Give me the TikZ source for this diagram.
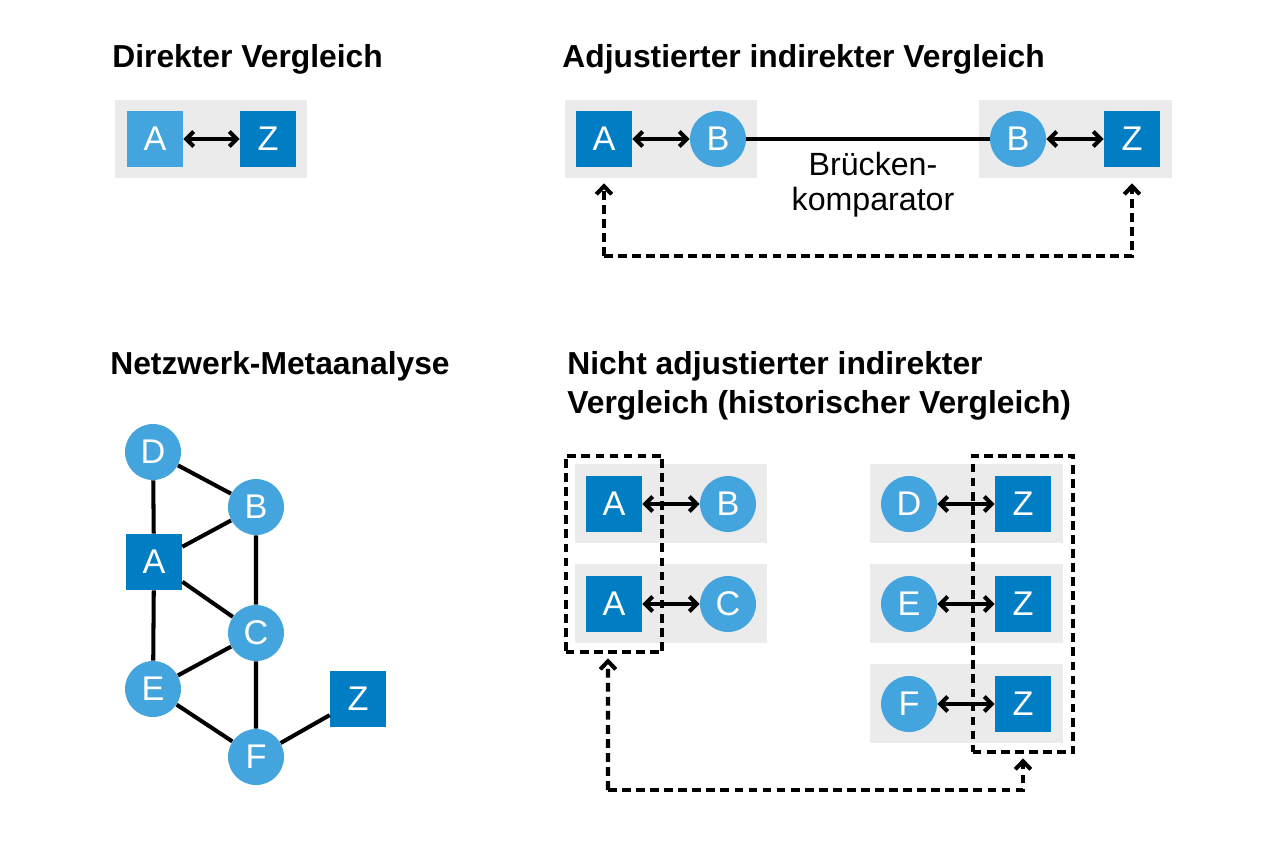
\documentclass[tikz,border=0pt]{standalone}
\usepackage{fontspec}
\setmainfont{Liberation Sans}
\usetikzlibrary{arrows.meta,fit}
\definecolor{hellblau}{RGB}{68,164,221}
\definecolor{dunkelblau}{RGB}{0,125,195}
\definecolor{hgrau}{RGB}{235,235,235}
\begin{document}
\begin{tikzpicture}[x=0.02cm,y=-0.02cm,
  quad/.style={fill=dunkelblau,minimum size=1.12cm,inner sep=0pt,text=white,font=\fontsize{19.5}{22}\selectfont},
  hquad/.style={quad,fill=hellblau},
  kreis/.style={circle,fill=hellblau,minimum size=1.12cm,inner sep=0pt,text=white,font=\fontsize{19.5}{22}\selectfont},
  titel/.style={anchor=base west,inner sep=0pt,font=\fontsize{18.1}{21}\selectfont\bfseries},
  kante/.style={line width=2.3pt},
  pfeil/.style={kante,{Straight Barb[length=1.5mm,width=3mm]}-{Straight Barb[length=1.5mm,width=3mm]}},
  strich/.style={line width=2.3pt,dash pattern=on 5pt off 3pt},
  spitze/.style={strich,-{Straight Barb[length=1.6mm,width=3.1mm]}},
  rahmen/.style={strich,draw,inner sep=0.4cm}]
\useasboundingbox (0,0) rectangle (1280,840);
\node[titel] at (112,67) {Direkter Vergleich};
\node[titel] at (562,67) {Adjustierter indirekter Vergleich};
\node[titel] at (110,374) {Netzwerk-Metaanalyse};
\node[titel] at (567,374) {Nicht adjustierter indirekter};
\node[titel] at (567,413) {Vergleich (historischer Vergleich)};
% direkt
\fill[hgrau] (115,100) rectangle (307,178);
\node[hquad] (dA) at (155,139) {A};
\node[quad] (dZ) at (268,139) {Z};
\draw[pfeil] (dA) -- (dZ);
% adjustiert
\fill[hgrau] (565,100) rectangle (757,178);
\fill[hgrau] (979,100) rectangle (1172,178);
\node[quad] (aA) at (604,139) {A};
\node[kreis] (aB) at (718,139) {B};
\node[kreis] (aB2) at (1018,139) {B};
\node[quad] (aZ) at (1132,139) {Z};
\draw[pfeil] (aA) -- (aB);
\draw[kante] (aB) -- (aB2);
\draw[pfeil] (aB2) -- (aZ);
\node[align=center,font=\fontsize{18.3}{20}\selectfont] (bk) at (873,185) {Brücken-\\komparator};
\draw[spitze] (604,256) -- ([yshift=-0.32cm]aA.south);
\draw[spitze] (604,256) -| ([yshift=-0.32cm]aZ.south);
% netzwerk
\node[kreis] (nD) at (153,452) {D};
\node[kreis] (nB) at (256,507) {B};
\node[quad] (nA) at (154,562) {A};
\node[kreis] (nC) at (256,633) {C};
\node[kreis] (nE) at (153,689) {E};
\node[kreis] (nF) at (256,757) {F};
\node[quad] (nZ) at (358,699) {Z};
\draw[kante] (nD) -- (nA) (nD) -- (nB) (nA) -- (nB) (nA) -- (nC) (nB) -- (nC)
  (nA) -- (nE) (nE) -- (nC) (nC) -- (nF) (nE) -- (nF) (nF) -- (nZ);
% historisch
\foreach \y in {464,564}
  \fill[hgrau] (575,\y) rectangle (767,\y+79);
\foreach \y in {464,564,664}
  \fill[hgrau] (870,\y) rectangle (1063,\y+79);
\node[quad] (hA1) at (614,504) {A};
\node[kreis] (hB) at (728,504) {B};
\node[quad] (hA2) at (614,604) {A};
\node[kreis] (hC) at (728,604) {C};
\node[kreis] (hD) at (909,504) {D};
\node[quad] (hZ1) at (1023,504) {Z};
\node[kreis] (hE) at (909,604) {E};
\node[quad] (hZ2) at (1023,604) {Z};
\node[kreis] (hF) at (909,704) {F};
\node[quad] (hZ3) at (1023,704) {Z};
\foreach \a/\b in {hA1/hB,hA2/hC,hD/hZ1,hE/hZ2,hF/hZ3}
  \draw[pfeil] (\a) -- (\b);
\node[rahmen,fit=(hA1)(hA2)] (rL) {};
\node[rahmen,inner xsep=0.44cm,fit=(hZ1)(hZ3)] (rR) {};
\draw[spitze] (608,790) -- ([xshift=-0.12cm,yshift=-0.08cm]rL.south);
\draw[spitze] (608,790) -| ([yshift=-0.08cm]rR.south);
\end{tikzpicture}
\end{document}
